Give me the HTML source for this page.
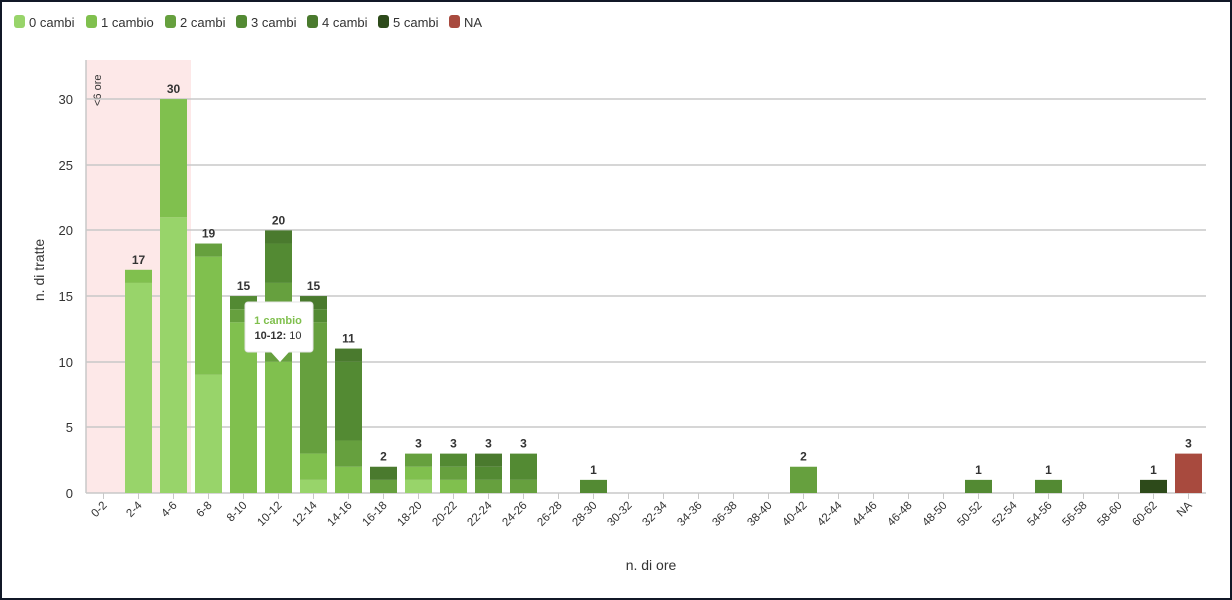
<!DOCTYPE html><html><head><meta charset="utf-8"><style>
body{margin:0;background:#fff}
svg{display:block;font-family:"Liberation Sans",sans-serif}
</style></head><body>
<svg width="1232" height="600" viewBox="0 0 1232 600">
<rect x="1" y="1" width="1230" height="598" fill="#fff" stroke="#111827" stroke-width="2"/>
<g font-size="13" fill="#333">
<rect x="14" y="15" width="11" height="13" rx="3" fill="#98d46a"/><text x="29" y="27">0 cambi</text>
<rect x="86" y="15" width="11" height="13" rx="3" fill="#80c04e"/><text x="101" y="27">1 cambio</text>
<rect x="165" y="15" width="11" height="13" rx="3" fill="#66a03e"/><text x="180" y="27">2 cambi</text>
<rect x="236" y="15" width="11" height="13" rx="3" fill="#538a33"/><text x="251" y="27">3 cambi</text>
<rect x="307" y="15" width="11" height="13" rx="3" fill="#4a7a2e"/><text x="322" y="27">4 cambi</text>
<rect x="378" y="15" width="11" height="13" rx="3" fill="#2d4a1a"/><text x="393" y="27">5 cambi</text>
<rect x="449" y="15" width="11" height="13" rx="3" fill="#a84a3e"/><text x="464" y="27">NA</text>
</g>
<rect x="86" y="60" width="105" height="433" fill="#fde8e8"/>
<text transform="translate(101,106) rotate(-90)" font-size="11" fill="#333">&lt;6 ore</text>
<g stroke="#c8c8c8" stroke-width="1.5">
<line x1="86" x2="1206" y1="99" y2="99"/><line x1="86" x2="1206" y1="165" y2="165"/><line x1="86" x2="1206" y1="230" y2="230"/><line x1="86" x2="1206" y1="296" y2="296"/><line x1="86" x2="1206" y1="362" y2="362"/><line x1="86" x2="1206" y1="427" y2="427"/><line x1="86" x2="1206" y1="493" y2="493"/>
<line x1="86" x2="86" y1="60" y2="493"/>
</g>
<g font-size="13" fill="#333" text-anchor="end">
<text x="73" y="104">30</text><text x="73" y="170">25</text><text x="73" y="235">20</text><text x="73" y="301">15</text><text x="73" y="367">10</text><text x="73" y="432">5</text><text x="73" y="498">0</text>
</g>
<text transform="translate(44,270) rotate(-90)" font-size="14" fill="#333" text-anchor="middle">n. di tratte</text>
<text x="651" y="570" font-size="14" fill="#333" text-anchor="middle">n. di ore</text>
<g id="bars"></g>
<g id="xl" font-size="11.5" fill="#333"></g>
<g id="tk" stroke="#c8c8c8"></g>
<g id="lab" font-size="12" font-weight="bold" fill="#333" text-anchor="middle"></g>
<g>
<rect x="245" y="302" width="68" height="50" fill="#fff" rx="3" stroke="#e4e4e4"/>
<polygon points="270,351 290,351 280,362" fill="#fff"/>
<text x="278" y="324" font-size="11" font-weight="bold" fill="#80c04e" text-anchor="middle">1 cambio</text>
<text x="278" y="339" font-size="11" fill="#333" text-anchor="middle"><tspan font-weight="bold">10-12:</tspan> 10</text>
</g>
<script>
var C=["#98d46a","#80c04e","#66a03e","#538a33","#4a7a2e","#2d4a1a","#a84a3e"];
var D={1:[16,1],2:[21,9],3:[9,9,1],4:[0,13,1,1],5:[0,10,6,3,1],6:[1,2,10,1,1],7:[0,2,2,6,1],8:[0,0,1,0,1],9:[1,1,1],10:[0,1,1,1],11:[0,0,1,1,1],12:[0,0,1,2],14:[0,0,0,1],20:[0,0,2],25:[0,0,0,1],27:[0,0,0,1],30:[0,0,0,0,0,1],31:[0,0,0,0,0,0,3]};
var ns="http://www.w3.org/2000/svg",b=document.getElementById("bars"),L=document.getElementById("lab"),X=document.getElementById("xl"),T=document.getElementById("tk");
function el(t,a,p,tx){var e=document.createElementNS(ns,t);for(var k in a)e.setAttribute(k,a[k]);if(tx)e.textContent=tx;p.appendChild(e);return e}
var s=13.13;
for(var i=0;i<32;i++){var cx=86+35*(i+0.5);
var name=i==31?"NA":(2*i)+"-"+(2*i+2);
el("line",{x1:cx,x2:cx,y1:493,y2:499},T);
el("text",{transform:"translate("+(cx+4)+",506) rotate(-45)","text-anchor":"end"},X,name);
if(D[i]){var y=493,tot=0;D[i].forEach(function(v,j){if(!v)return;var h=v*s;y-=h;tot+=v;el("rect",{x:cx-13.5,y:y,width:27,height:h,fill:C[j]},b)});
el("text",{x:cx,y:y-6},L,tot);}
}
</script>
</svg>
</body></html>
